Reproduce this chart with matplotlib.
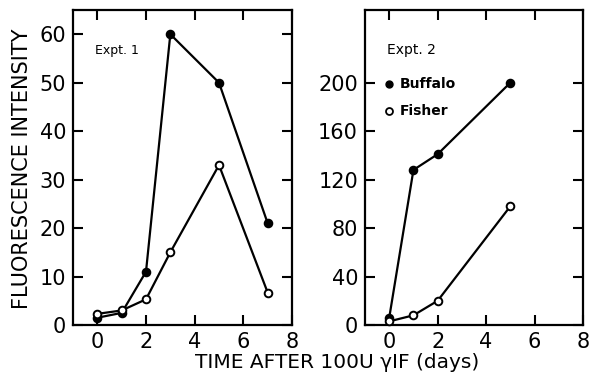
import numpy as np
import matplotlib.pyplot as plt

plt.rcParams['font.family'] = ['DejaVu Sans']

# Expt. 1
days1 = [0, 1, 2, 3, 5, 7]
buffalo1 = [1.5, 2.5, 11, 60, 50, 21]
fisher1 = [2.3, 3.0, 5.3, 15, 33, 6.7]

# Expt. 2
days2 = [0, 1, 2, 5]
buffalo2 = [6, 128, 141, 200]
fisher2 = [3, 8, 20, 98]

fig = plt.figure(figsize=(5.91, 3.77), dpi=100)
ax1 = fig.add_axes([73/591, 1 - 325/377, 219/591, 315/377])
ax2 = fig.add_axes([365/591, 1 - 325/377, 218/591, 315/377])

line_kw = dict(color='black', lw=1.6, ms=5.5, mew=1.4, clip_on=False)
for ax, d, b, f in [(ax1, days1, buffalo1, fisher1), (ax2, days2, buffalo2, fisher2)]:
    ax.plot(d, b, 'o-', mfc='black', mec='black', zorder=3, **line_kw)
    ax.plot(d, f, 'o-', mfc='white', mec='black', zorder=4, **line_kw)
    ax.set_xlim(-1, 8)
    ax.set_xticks([0, 2, 4, 6, 8])
    ax.tick_params(direction='in', length=7, width=1.5, top=True, right=True,
                   labelsize=15, pad=5)
    for s in ax.spines.values():
        s.set_linewidth(1.6)

ax1.set_ylim(0, 65)
ax1.set_yticks([0, 10, 20, 30, 40, 50, 60])
ax2.set_ylim(0, 260)
ax2.set_yticks([0, 40, 80, 120, 160, 200])

ax1.text(0.10, 0.86, 'Expt. 1', transform=ax1.transAxes, fontsize=9)
ax2.text(0.10, 0.86, 'Expt. 2', transform=ax2.transAxes, fontsize=10)
ax2.plot([0.11], [0.765], 'o', transform=ax2.transAxes, color='black', ms=5)
ax2.text(0.16, 0.765, 'Buffalo', transform=ax2.transAxes, fontsize=10,
         fontweight='semibold', va='center')
ax2.plot([0.11], [0.68], 'o', transform=ax2.transAxes, mfc='white',
         mec='black', mew=1.3, ms=5)
ax2.text(0.16, 0.68, 'Fisher', transform=ax2.transAxes, fontsize=10,
         fontweight='semibold', va='center')

fig.text(22/591, 1 - 169/377, 'FLUORESCENCE INTENSITY', rotation=90,
         fontsize=15, ha='center', va='center')
fig.text(337/591, 1 - 363/377, 'TIME AFTER 100U γIF (days)', fontsize=14.5,
         ha='center', va='center')

fig.savefig('out.png', dpi=100)
